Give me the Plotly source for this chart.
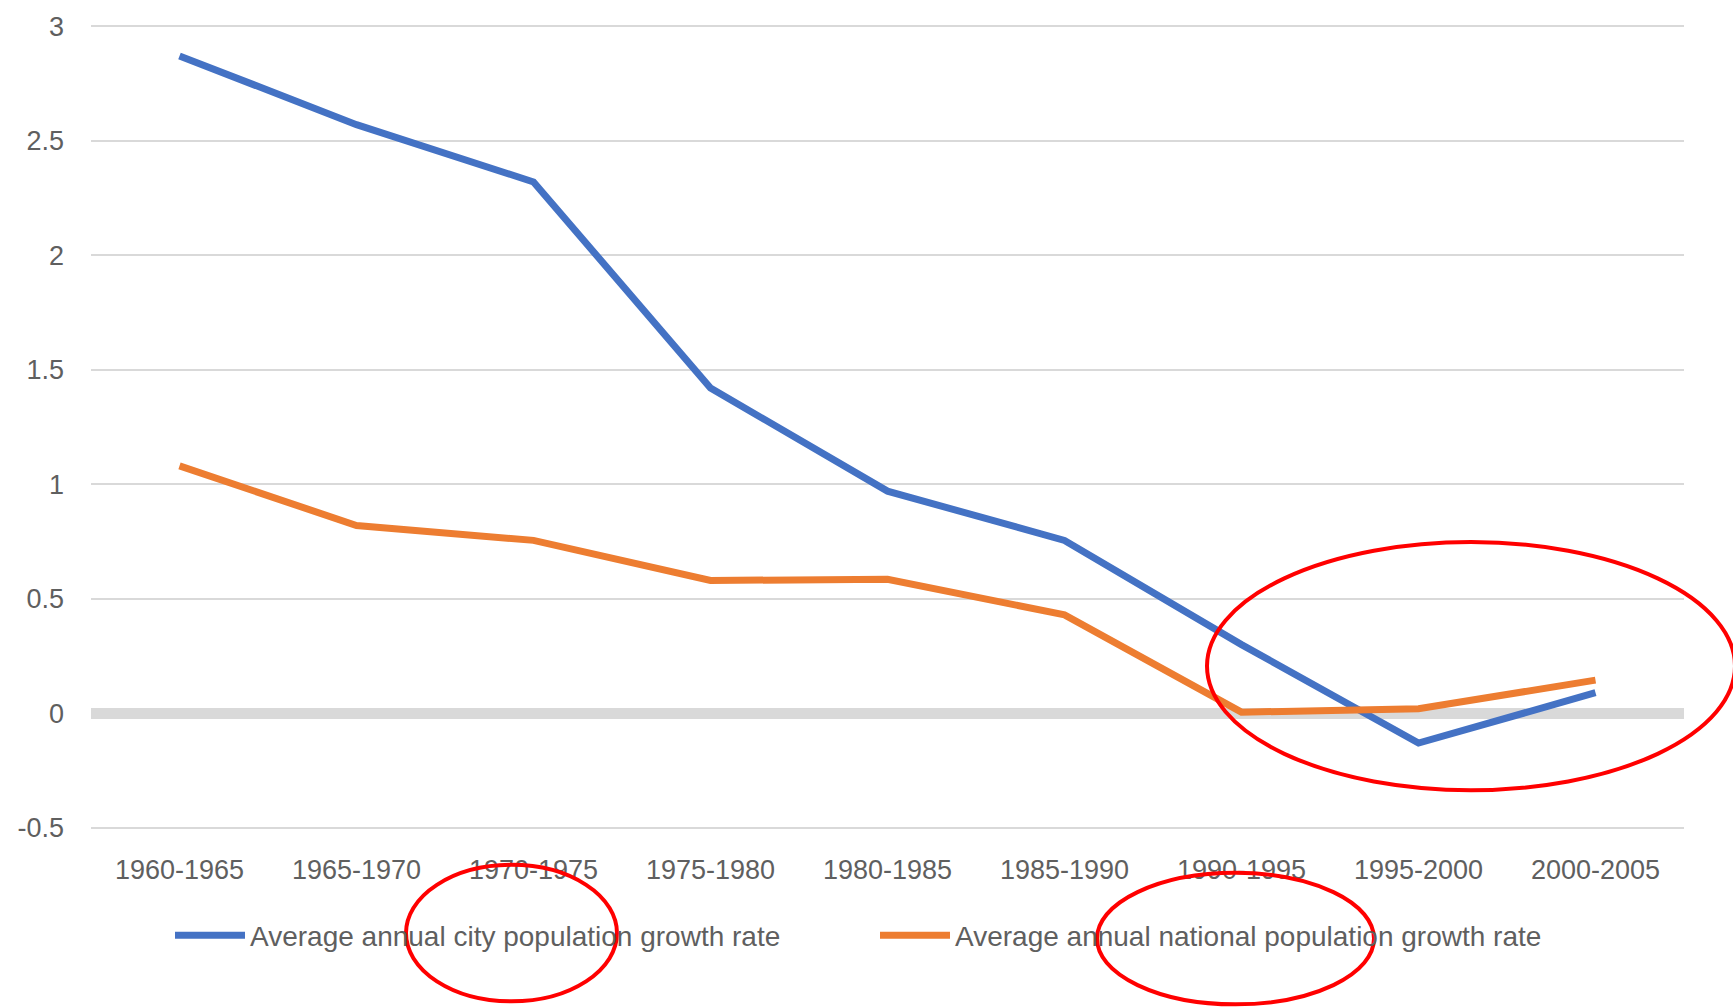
import plotly.graph_objects as go

periods = ["1960-1965", "1965-1970", "1970-1975", "1975-1980", "1980-1985",
           "1985-1990", "1990-1995", "1995-2000", "2000-2005"]
city_growth = [2.87, 2.57, 2.32, 1.42, 0.97, 0.755, 0.30, -0.13, 0.09]
national_growth = [1.08, 0.82, 0.755, 0.58, 0.585, 0.43, 0.005, 0.02, 0.145]
y_tick_vals = [-0.5, 0, 0.5, 1, 1.5, 2, 2.5, 3]
y_tick_text = ["-0.5", "0", "0.5", "1", "1.5", "2", "2.5", "3"]

W, H = 1733, 1008
ML, MR, MT, MB = 91, 49, 22, 179
PW, PH = W - ML - MR, H - MT - MB

def px_x(p):
    return (p - ML) / PW

def px_y(p):
    return (H - MB - p) / PH

FONT = "Liberation Sans, Arial, sans-serif"
GRAY = "#5f5f5f"

fig = go.Figure()
fig.add_trace(go.Scatter(x=periods, y=city_growth, mode="lines",
                         name="Average annual city population growth rate",
                         line=dict(color="#4472C4", width=7)))
fig.add_trace(go.Scatter(x=periods, y=national_growth, mode="lines",
                         name="Average annual national population growth rate",
                         line=dict(color="#ED7D31", width=7)))

# red hand-drawn highlight ellipses
ellipses = [(1207, 541, 1735, 790), (406, 865, 617, 1002), (1097, 873, 1374, 1005)]
for x0, y0, x1, y1 in ellipses:
    fig.add_shape(type="circle", xref="paper", yref="paper",
                  x0=px_x(x0), x1=px_x(x1), y0=px_y(y1), y1=px_y(y0),
                  line=dict(color="#FF0000", width=4), layer="above")

fig.update_layout(
    width=W, height=H,
    margin=dict(l=ML, r=MR, t=MT, b=MB),
    paper_bgcolor="white", plot_bgcolor="white",
    font=dict(family=FONT, color=GRAY, size=26),
    showlegend=True,
    legend=dict(orientation="h", x=px_x(170), xanchor="left",
                y=px_y(936), yanchor="middle",
                font=dict(size=28, color=GRAY, family=FONT),
                itemwidth=70, entrywidth=620, entrywidthmode="pixels",
                bgcolor="rgba(0,0,0,0)"),
    xaxis=dict(type="category", range=[-0.5, 8.5], showgrid=False, showline=False,
               ticks="", tickfont=dict(size=27, color=GRAY, family=FONT),
               ticklabelstandoff=22),
    yaxis=dict(range=[-0.505, 3.005], tickvals=y_tick_vals, ticktext=y_tick_text,
               showgrid=True, gridcolor="#D9D9D9", gridwidth=2,
               zeroline=True, zerolinecolor="#D9D9D9", zerolinewidth=11,
               showline=False, ticks="",
               tickfont=dict(size=27, color=GRAY, family=FONT),
               ticklabelstandoff=26),
)

fig.write_html("out.html", config={"displayModeBar": False},
               post_script="document.body.style.margin='0';")
